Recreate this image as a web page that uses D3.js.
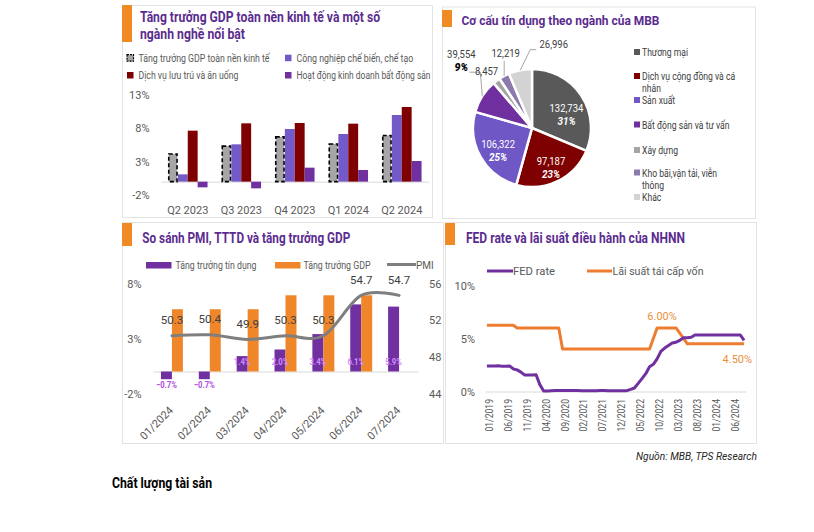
<!DOCTYPE html>
<html><head><meta charset="utf-8">
<script src="https://cdn.jsdelivr.net/npm/d3@7"></script>
<style>
body{margin:0;background:#fff}
svg{display:block}
text{font-family:Roboto,"Noto Sans",sans-serif}
</style>
</head><body>
<svg id="c" width="814" height="532"></svg>
<script>
// ---------------- DATA ----------------
// Panel 1: GDP growth by sector
const gdpQuarters = ["Q2 2023","Q3 2023","Q4 2023","Q1 2024","Q2 2024"];
const gdpTotal = [4.14,5.33,6.72,5.66,6.93];
const gdpManufacturing = [1.1,5.6,7.9,7.15,10.0];
const gdpAccommodation = [7.65,8.75,8.8,8.7,11.2];
const gdpRealEstate = [-0.85,-1.0,2.1,1.75,3.1];
const gdpTicks = [-2,3,8,13];
const gdpSeriesNames = ["Tăng trưởng GDP toàn nền kinh tế","Công nghiệp chế biến, chế tạo","Dịch vụ lưu trú và ăn uống","Hoạt động kinh doanh bất động sản"];

// Panel 2: MBB credit structure by sector
const creditSectors = ["Thương mại","Dịch vụ cộng đồng và cá nhân","Sản xuất","Bất động sản và tư vấn","Xây dựng","Kho bãi,vận tải, viễn thông","Khác"];
const creditValues = [132734,97187,106322,39554,8457,12219,26996];

// Panel 3: PMI, credit growth, GDP growth
const pmiMonths = ["01/2024","02/2024","03/2024","04/2024","05/2024","06/2024","07/2024"];
const creditGrowth = [-0.7,-0.7,1.4,2.0,3.4,6.1,5.9];
const gdpGrowthMonthly = [5.66,5.66,5.66,6.93,6.93,6.93,null];
const pmiValues = [50.3,50.4,49.9,50.3,50.3,54.7,54.7];
const pmiLeftTicks = [-2,3,8];
const pmiRightTicks = [44,48,52,56];

// Panel 4: FED rate vs SBV refinancing rate (monthly 01/2019 - 09/2024)
const rateMonths = d3.range(69).map(i => d3.timeFormat("%m/%Y")(new Date(2019, i, 1)));
const fedRate = [
 2.40,2.40,2.41,2.42,2.39,2.38,2.40,2.13,2.04,1.83,1.55,1.55,
 1.55,1.58,0.65,0.05,0.05,0.08,0.09,0.10,0.09,0.09,0.09,0.09,
 0.09,0.08,0.07,0.07,0.06,0.08,0.10,0.09,0.08,0.08,0.08,0.08,
 0.08,0.08,0.20,0.33,0.77,1.21,1.68,2.33,2.56,3.08,3.78,4.10,
 4.33,4.57,4.65,4.83,5.06,5.08,5.12,5.33,5.33,5.33,5.33,5.33,
 5.33,5.33,5.33,5.33,5.33,5.33,5.33,5.33,4.83];
const refinanceRate = [
 6.25,6.25,6.25,6.25,6.25,6.25,6.25,6.25,6.0,6.0,6.0,6.0,
 6.0,6.0,6.0,6.0,6.0,6.0,6.0,6.0,4.0,4.0,4.0,4.0,
 4.0,4.0,4.0,4.0,4.0,4.0,4.0,4.0,4.0,4.0,4.0,4.0,
 4.0,4.0,4.0,4.0,4.0,4.0,4.0,4.0,5.0,6.0,6.0,6.0,
 6.0,6.0,6.0,5.5,5.0,4.5,4.5,4.5,4.5,4.5,4.5,4.5,
 4.5,4.5,4.5,4.5,4.5,4.5,4.5,4.5,4.5];
const rateTicks = [0,5,10];
const rateLabelEvery = 5;

// ---------------- STYLE ----------------
const C = {
  title:"#5b2c8f", accent:"#f08a24", border:"#e3e3e3", axis:"#595959", grid:"#d9d9d9",
  gray:"#a6a6a6", lavender:"#7459c8", maroon:"#7f0000", purple:"#7030a0",
  orange:"#f0862a", pmi:"#7f7f7f"
};
const pieColors = ["#595959","#7f0000","#6f58c6","#7030a0","#a5a5a5","#8c7aac","#d3d3d3"];

const svg = d3.select("#c");

function condense(sel, k){
  sel.each(function(){
    const w = this.getComputedTextLength();
    d3.select(this).attr("textLength", w*k).attr("lengthAdjust","spacingAndGlyphs");
  });
  return sel;
}
function fitTo(sel, w){
  sel.attr("textLength", w).attr("lengthAdjust","spacingAndGlyphs");
  return sel;
}
function panel(x,y,w,h,ay,ah){
  svg.append("rect").attr("x",x+0.5).attr("y",y+0.5).attr("width",w).attr("height",h)
    .attr("fill","#fff").attr("stroke",C.border);
  svg.append("rect").attr("x",x).attr("y",ay).attr("width",10).attr("height",ah).attr("fill",C.accent);
}
function title(txt,x,y,w,size){
  fitTo(svg.append("text").attr("x",x).attr("y",y).attr("font-size",size||14).attr("font-weight",700)
    .attr("fill",C.title).text(txt), w);
}
function styleAxis(g, size){
  g.select(".domain").remove();
  g.selectAll("text").attr("fill",C.axis).attr("font-size",size||11);
}

// ================= PANEL 1 =================
panel(122,5,310,212,5,37);
title("Tăng trưởng GDP toàn nền kinh tế và một số",140,22.3,240);
title("ngành nghề nổi bật",140,39,105);

// legend
const leg1 = [
  {x:127,y:61.7,c:C.gray,dash:true,w:131},
  {x:285,y:61.7,c:C.lavender,w:116.7},
  {x:127,y:79,c:C.maroon,w:100},
  {x:285,y:79,c:C.purple,w:134}
];
leg1.forEach((L,i)=>{
  const r = svg.append("rect").attr("x",L.x).attr("y",L.y-7).attr("width",6.5).attr("height",6.5).attr("fill",L.c);
  if(L.dash) r.attr("stroke","#000").attr("stroke-width",1.2).attr("stroke-dasharray","2,1");
  fitTo(svg.append("text").attr("x",L.x+11.5).attr("y",L.y).attr("font-size",10).attr("fill",C.axis).text(gdpSeriesNames[i]), L.w);
});

const y1 = d3.scaleLinear().domain([-2,13]).range([195,95]);
const x1 = d3.scaleBand().domain(gdpQuarters).range([161,428.5]).paddingInner(0.26).paddingOuter(0.13);
const sub1 = d3.scaleBand().domain([0,1,2,3]).range([0,x1.bandwidth()]);
const gdpSeries = [gdpTotal,gdpManufacturing,gdpAccommodation,gdpRealEstate];
const gdpColors = [C.gray,C.lavender,C.maroon,C.purple];

const ya1 = svg.append("g").attr("transform","translate(149.5,0)")
  .call(d3.axisLeft(y1).tickValues(gdpTicks).tickFormat(d=>d+"%").tickSize(0).tickPadding(0));
styleAxis(ya1);

const xa1 = svg.append("g").attr("transform",`translate(0,${y1(0)})`)
  .call(d3.axisBottom(x1).tickSize(0).tickPadding(25));
xa1.select(".domain").attr("stroke",C.grid);
xa1.selectAll("text").attr("fill",C.axis).attr("font-size",11);

gdpSeries.forEach((vals,si)=>{
  const g = svg.append("g");
  g.selectAll("rect").data(vals).join("rect")
    .attr("x",(d,i)=>x1(gdpQuarters[i])+sub1(si)+(si===0?0.8:0))
    .attr("width",sub1.bandwidth()-(si===0?1.6:0))
    .attr("y",d=>y1(Math.max(0,d)))
    .attr("height",d=>Math.abs(y1(d)-y1(0)))
    .attr("fill",gdpColors[si])
    .attr("stroke",si===0?"#000":null)
    .attr("stroke-width",si===0?1.6:null)
    .attr("stroke-dasharray",si===0?"4,2.5":null);
});

// ================= PANEL 2 =================
panel(442,6.5,313,211.5,10,17);
title("Cơ cấu tín dụng theo ngành của MBB",461.5,25,198,13.5);

const pcx = 532, pcy = 128, pr = 59;
const pie = d3.pie().sort(null).value(d=>d)(creditValues);
const arc = d3.arc().innerRadius(0).outerRadius(pr);
const pg = svg.append("g").attr("transform",`translate(${pcx},${pcy})`);
pg.selectAll("path").data(pie).join("path")
  .attr("d",arc).attr("fill",(d,i)=>pieColors[i]).attr("stroke","#fff").attr("stroke-width",2.5);

const total = d3.sum(creditValues);
const fmt = d3.format(",");
const labelArc = d3.arc().innerRadius(pr*0.66).outerRadius(pr*0.66);
pie.slice(0,3).forEach((d,i)=>{
  const [cx,cy] = labelArc.centroid(d);
  const shift = i===0?[2,8]:(i===1?[2,4]:[0,3]);
  condense(pg.append("text").attr("x",cx+shift[0]).attr("y",cy+shift[1]-2).attr("text-anchor","middle")
    .attr("font-size",11).attr("fill","#fff").text(fmt(d.data)),0.86);
  condense(pg.append("text").attr("x",cx+shift[0]).attr("y",cy+shift[1]+11).attr("text-anchor","middle")
    .attr("font-size",11).attr("font-weight",700).attr("font-style","italic").attr("fill","#fff")
    .text(Math.round(d.data/total*100)+"%"),0.9);
});
// outer labels: offsets relative to the slice's outer anchor point
const outerCfg = [
  {i:3, dx:-21, dy:-38.5, pct:true, leader:[[0,0],[-2,-24],[-13,-24]]},
  {i:4, dx:-10, dy:-6, pct:false, leader:null},
  {i:5, dx:1.5, dy:-19, pct:false, leader:[[0,0],[0,-15]]},
  {i:6, dx:33.5, dy:-22, pct:false, leader:[[0,0],[10,-20.5],[16,-20.5]]}
];
outerCfg.forEach(o=>{
  const d = pie[o.i];
  const a = (d.startAngle+d.endAngle)/2;
  const ax = Math.sin(a)*pr, ay = -Math.cos(a)*pr;
  if(o.leader){
    pg.append("path").attr("d",d3.line()(o.leader.map(p=>[ax+p[0],ay+p[1]])))
      .attr("fill","none").attr("stroke","#a6a6a6").attr("stroke-width",1);
  }
  condense(pg.append("text").attr("x",ax+o.dx).attr("y",ay+o.dy).attr("text-anchor","middle")
    .attr("font-size",11).attr("fill","#404040").text(fmt(d.data)),0.86);
  if(o.pct){
    pg.append("text").attr("x",ax+o.dx).attr("y",ay+o.dy+13).attr("text-anchor","middle")
      .attr("font-size",10.5).attr("font-weight",900).attr("font-style","italic").attr("fill","#000")
      .text(Math.round(d.data/total*100)+"%");
  }
});
// legend (wrapped lines)
const pieLegend = [
  {lines:["Thương mại"],y:56},
  {lines:["Dịch vụ cộng đồng và cá","nhân"],y:80},
  {lines:["Sản xuất"],y:104},
  {lines:["Bất động sản và tư vấn"],y:128.5},
  {lines:["Xây dựng"],y:154},
  {lines:["Kho bãi,vận tải, viễn","thông"],y:176.5},
  {lines:["Khác"],y:201}
];
pieLegend.forEach((L,i)=>{
  svg.append("rect").attr("x",634).attr("y",L.y-7).attr("width",6).attr("height",6).attr("fill",pieColors[i]);
  L.lines.forEach((t,j)=>{
    condense(svg.append("text").attr("x",642).attr("y",L.y+j*12).attr("font-size",10).attr("fill","#404040").text(t),0.86);
  });
});

// ================= PANEL 3 =================
panel(122,222,321,221,223,23);
title("So sánh PMI, TTTD và tăng trưởng GDP",142.3,243.3,208);

// legend
svg.append("rect").attr("x",146).attr("y",262).attr("width",25.5).attr("height",6.5).attr("fill",C.purple);
fitTo(svg.append("text").attr("x",175.5).attr("y",268.5).attr("font-size",10).attr("fill",C.axis).text("Tăng trưởng tín dụng"),81);
svg.append("rect").attr("x",275).attr("y",262).attr("width",25.5).attr("height",6.5).attr("fill",C.orange);
fitTo(svg.append("text").attr("x",303.5).attr("y",268.5).attr("font-size",10).attr("fill",C.axis).text("Tăng trưởng GDP"),67);
svg.append("line").attr("x1",387).attr("x2",416).attr("y1",264.5).attr("y2",264.5).attr("stroke",C.pmi).attr("stroke-width",3);
svg.append("text").attr("x",416).attr("y",268.5).attr("font-size",10).attr("fill",C.axis).text("PMI");

const y3 = d3.scaleLinear().domain([-2,8]).range([393.5,283.5]);
const y3r = d3.scaleLinear().domain([44,56]).range([393.5,283.5]);
const x3 = d3.scaleBand().domain(pmiMonths).range([153,418]).paddingInner(0.42).paddingOuter(0.21);
const half = x3.bandwidth()/2;

const ya3 = svg.append("g").attr("transform","translate(141.5,0)")
  .call(d3.axisLeft(y3).tickValues(pmiLeftTicks).tickFormat(d=>d+"%").tickSize(0).tickPadding(0));
styleAxis(ya3);
const ya3r = svg.append("g").attr("transform","translate(429,0)")
  .call(d3.axisRight(y3r).tickValues(pmiRightTicks).tickSize(0).tickPadding(0));
styleAxis(ya3r);

const xa3 = svg.append("g").attr("transform",`translate(0,${y3(0)})`)
  .call(d3.axisBottom(x3).tickSize(0));
xa3.select(".domain").attr("stroke",C.grid).attr("stroke-width",1.2);
xa3.selectAll("text").attr("fill",C.axis).attr("font-size",11)
  .attr("x",0).attr("y",0).attr("dy",0).attr("text-anchor","end")
  .attr("transform","translate(2,39.5) rotate(-45)");

svg.append("g").selectAll("rect").data(creditGrowth).join("rect")
  .attr("x",(d,i)=>x3(pmiMonths[i]))
  .attr("width",half)
  .attr("y",d=>y3(Math.max(0,d))).attr("height",d=>Math.abs(y3(d)-y3(0)))
  .attr("fill",C.purple);
svg.append("g").selectAll("rect").data(gdpGrowthMonthly).join("rect")
  .filter(d=>d!==null)
  .attr("x",(d,i)=>x3(pmiMonths[i])+half)
  .attr("width",half)
  .attr("y",d=>y3(d)).attr("height",d=>y3(0)-y3(d))
  .attr("fill",C.orange);

const pmiLine = d3.line().x((d,i)=>x3(pmiMonths[i])+x3.bandwidth()/2).y(d=>y3r(d)).curve(d3.curveCardinal.tension(0));
svg.append("path").datum(pmiValues).attr("d",pmiLine).attr("fill","none")
  .attr("stroke",C.pmi).attr("stroke-width",3).attr("stroke-linecap","round");

svg.append("g").selectAll("text").data(pmiValues).join("text")
  .attr("x",(d,i)=>x3(pmiMonths[i])+x3.bandwidth()/2)
  .attr("y",d=>y3r(d)-11.5)
  .attr("text-anchor","middle").attr("font-size",11.5).attr("fill","#404040")
  .text(d=>d3.format(".1f")(d));

svg.append("g").selectAll("text").data(creditGrowth).join("text")
  .attr("x",(d,i)=>x3(pmiMonths[i])+half/2)
  .attr("y",d=>d<0?y3(d)+9:y3(0)-7)
  .attr("text-anchor","middle").attr("font-size",9).attr("font-weight",700)
  .attr("fill",d=>d<0?"#b04be0":"#d58cff")
  .text(d=>d3.format(".1f")(d)+"%")
  .call(condense,0.85);

// ================= PANEL 4 =================
panel(445,222,311,221,223,22);
title("FED rate và lãi suất điều hành của NHNN",466,243.3,219);

svg.append("line").attr("x1",487).attr("x2",513).attr("y1",271).attr("y2",271).attr("stroke",C.purple).attr("stroke-width",3);
fitTo(svg.append("text").attr("x",513).attr("y",274.5).attr("font-size",10.5).attr("fill",C.axis).text("FED rate"),42);
svg.append("line").attr("x1",587).attr("x2",612).attr("y1",271).attr("y2",271).attr("stroke","#ed7d31").attr("stroke-width",3);
fitTo(svg.append("text").attr("x",612.5).attr("y",274.5).attr("font-size",10.5).attr("fill",C.axis).text("Lãi suất tái cấp vốn"),91);

const y4 = d3.scaleLinear().domain([0,10]).range([391.5,285.5]);
const x4 = d3.scalePoint().domain(rateMonths).range([485,746]).padding(0.5);

const ya4 = svg.append("g").attr("transform","translate(475,0)")
  .call(d3.axisLeft(y4).tickValues(rateTicks).tickFormat(d=>d+"%").tickSize(0).tickPadding(0));
styleAxis(ya4);

const xa4 = svg.append("g").attr("transform",`translate(0,${y4(0)})`)
  .call(d3.axisBottom(x4).tickValues(rateMonths.filter((d,i)=>i%rateLabelEvery===0)).tickSize(0));
xa4.select(".domain").attr("stroke",C.grid);
xa4.selectAll("text").attr("fill",C.axis).attr("font-size",10)
  .attr("x",0).attr("y",0).attr("dy",0).attr("text-anchor","end")
  .attr("transform","translate(5.5,7.5) rotate(-90)")
  .call(condense,0.86);

const lineFn = d3.line().x((d,i)=>x4(rateMonths[i])).y(d=>y4(d));
svg.append("path").datum(refinanceRate).attr("d",lineFn).attr("fill","none")
  .attr("stroke","#ed7d31").attr("stroke-width",3).attr("stroke-linejoin","round");
svg.append("path").datum(fedRate).attr("d",lineFn).attr("fill","none")
  .attr("stroke",C.purple).attr("stroke-width",3).attr("stroke-linejoin","round");

const peakIdx = refinanceRate.indexOf(d3.max(refinanceRate.slice(30)), 30);
svg.append("text").attr("x",x4(rateMonths[peakIdx])+5).attr("y",y4(refinanceRate[peakIdx])-8)
  .attr("text-anchor","middle").attr("font-size",11).attr("fill","#e8913f")
  .text(d3.format(".2f")(refinanceRate[peakIdx])+"%");
const lastIdx = refinanceRate.length-1;
svg.append("text").attr("x",x4(rateMonths[lastIdx])+8).attr("y",y4(refinanceRate[lastIdx])+19)
  .attr("text-anchor","end").attr("font-size",11).attr("fill","#e8913f")
  .text(d3.format(".2f")(refinanceRate[lastIdx])+"%");

// ================= FOOTER =================
fitTo(svg.append("text").attr("x",757).attr("y",460).attr("text-anchor","end").attr("font-size",10.5)
  .attr("font-style","italic").attr("fill","#262626").text("Nguồn: MBB, TPS Research"),121);
fitTo(svg.append("text").attr("x",112).attr("y",488.3).attr("font-size",14).attr("font-weight",700)
  .attr("fill","#000").text("Chất lượng tài sản"),100);
</script>
</body></html>
